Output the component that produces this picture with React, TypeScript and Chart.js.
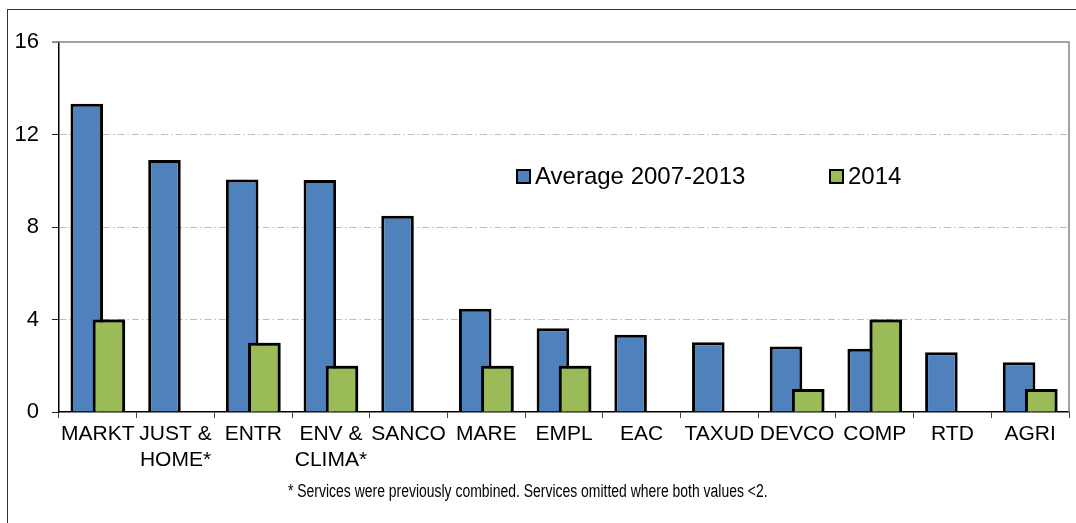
import React, { useEffect, useRef } from 'react';
import { Chart, registerables } from 'chart.js';

Chart.register(...registerables);

const categories: (string | string[])[] = [
  'MARKT', ['JUST &', 'HOME*'], 'ENTR', ['ENV &', 'CLIMA*'], 'SANCO', 'MARE',
  'EMPL', 'EAC', 'TAXUD', 'DEVCO', 'COMP', 'RTD', 'AGRI',
];
const average20072013 = [13.33, 10.9, 10.05, 10.03, 8.49, 4.47, 3.62, 3.34, 3.02, 2.83, 2.73, 2.58, 2.15];
const values2014 = [4, null, 3, 2, null, 2, 2, null, null, 1, 4, null, 1];
const seriesLabels = ['Average 2007-2013', '2014'];
const yTickValues = [0, 4, 8, 12, 16];
const footnote = '* Services were previously combined. Services omitted where both values <2.';

const BLUE = '#4F81BD';
const GREEN = '#9BBB59';
const FONT = "'Liberation Sans', Arial, sans-serif";

const framePlugin = {
  id: 'frameAndLegend',
  afterDatasetsDraw(chart: any) {
    // draw the 2014 series again so it sits over the overlapping average bars
    const meta = chart.getDatasetMeta(1);
    chart.ctx.save();
    meta.controller.draw();
    chart.ctx.restore();
  },
  afterDraw(chart: any) {
    const { ctx, chartArea } = chart;
    const { left, top, right, bottom } = chartArea;
    ctx.save();
    ctx.strokeStyle = '#858585';
    ctx.lineWidth = 1.5;
    ctx.beginPath();
    ctx.moveTo(left - 7, top);
    ctx.lineTo(right, top);
    ctx.lineTo(right, bottom);
    ctx.stroke();

    const entries = [
      { label: chart.data.datasets[0].label, color: BLUE, x: 517 },
      { label: chart.data.datasets[1].label, color: GREEN, x: 830 },
    ];
    const baseY = 184;
    ctx.font = `24px ${FONT}`;
    ctx.textBaseline = 'alphabetic';
    ctx.textAlign = 'left';
    entries.forEach((e) => {
      ctx.fillStyle = e.color;
      ctx.fillRect(e.x, baseY - 14, 13, 13);
      ctx.strokeStyle = '#000';
      ctx.lineWidth = 2;
      ctx.strokeRect(e.x, baseY - 14, 13, 13);
      ctx.fillStyle = '#000';
      ctx.fillText(e.label, e.x + 18, baseY);
    });
    ctx.restore();
  },
};

export default function App() {
  const canvasRef = useRef<HTMLCanvasElement | null>(null);

  useEffect(() => {
    if (!canvasRef.current) return;
    const chart = new Chart(canvasRef.current, {
      type: 'bar',
      data: {
        labels: categories,
        datasets: [
          {
            label: seriesLabels[0],
            data: average20072013,
            backgroundColor: BLUE,
            borderColor: '#000',
            borderWidth: 3,
            categoryPercentage: 0.57,
            barPercentage: 1.47,
          },
          {
            label: seriesLabels[1],
            data: values2014 as any,
            backgroundColor: GREEN,
            borderColor: '#000',
            borderWidth: 3,
            categoryPercentage: 0.57,
            barPercentage: 1.47,
          },
        ],
      },
      options: {
        responsive: false,
        animation: false,
        layout: { padding: { left: 0, top: 42, right: 7, bottom: 0 } },
        plugins: {
          legend: { display: false },
          tooltip: { enabled: false },
        },
        scales: {
          x: {
            offset: true,
            grid: {
              offset: true,
              drawOnChartArea: false,
              tickLength: 6,
              tickColor: '#444',
              lineWidth: 1,
            },
            border: { color: '#000', width: 1.5 },
            ticks: {
              color: '#000',
              font: { family: FONT, size: 21, lineHeight: 1.2 },
              padding: 4,
              maxRotation: 0,
              minRotation: 0,
              autoSkip: false,
            },
            afterFit: (scale: any) => {
              scale.height = 111;
            },
          },
          y: {
            min: 0,
            max: 16,
            afterBuildTicks: (scale: any) => {
              scale.ticks = yTickValues.map((v) => ({ value: v }));
            },
            grid: {
              color: (c: any) => {
                const v = c.tick ? c.tick.value : null;
                if (v === 0 || v === 16) return 'rgba(0,0,0,0)';
                return '#BDBDBD';
              },
              tickColor: (c: any) => (c.tick && c.tick.value === 16 ? '#858585' : '#222'),
              tickLength: 7,
              lineWidth: 1,
            },
            border: { color: '#000', width: 1.5, dash: [7, 3, 1.5, 3] },
            ticks: {
              color: '#000',
              font: { family: FONT, size: 22 },
              padding: 13,
            },
            afterFit: (scale: any) => {
              scale.width = 59;
            },
          },
        },
      },
      plugins: [framePlugin],
    });
    return () => chart.destroy();
  }, []);

  return (
    <div style={{ position: 'absolute', left: 0, top: 0, width: 1076, height: 523, overflow: 'hidden', background: '#fff' }}>
      <div
        style={{
          position: 'absolute',
          left: 7,
          top: 9,
          width: 1200,
          height: 700,
          borderLeft: '1px solid #333',
          borderTop: '1px solid #333',
        }}
      />
      <canvas ref={canvasRef} width={1076} height={523} style={{ position: 'absolute', left: 0, top: 0, width: 1076, height: 523 }} />
      <div
        style={{
          position: 'absolute',
          left: 288,
          top: 481,
          fontFamily: FONT,
          fontSize: 18,
          lineHeight: '20px',
          color: '#000',
          whiteSpace: 'nowrap',
          transform: 'scaleX(0.775)',
          transformOrigin: '0 0',
        }}
      >
        {footnote}
      </div>
    </div>
  );
}
